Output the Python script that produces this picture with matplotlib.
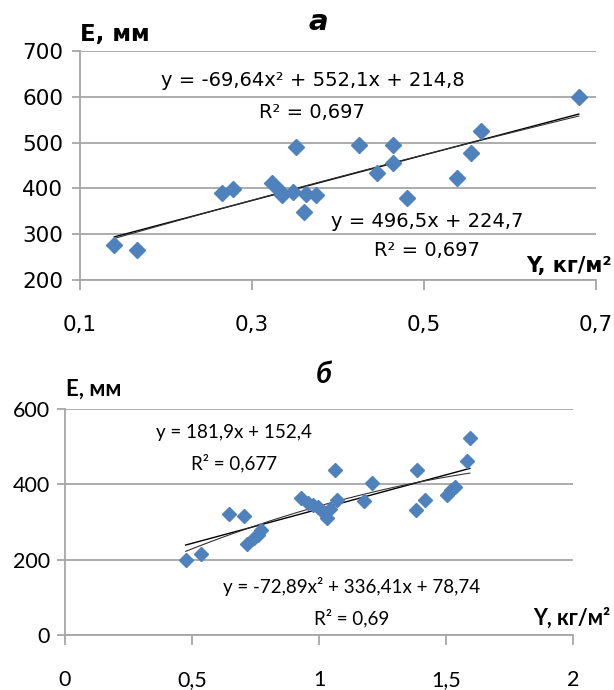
import numpy as np
import matplotlib
matplotlib.use("Agg")
import matplotlib.pyplot as plt

plt.rcParams['font.family'] = ['Lato', 'DejaVu Sans']

# panel a
y_a = [0.14, 0.166, 0.265, 0.278, 0.323, 0.332, 0.335, 0.348, 0.351, 0.361, 0.363,
       0.374, 0.424, 0.445, 0.464, 0.464, 0.48, 0.538, 0.555, 0.566, 0.68]
e_a = [276, 265, 390, 398, 411, 395, 385, 393, 491, 349, 388,
       385, 495, 433, 455, 495, 380, 422, 478, 526, 600]
lin_a = [496.5, 224.7]
quad_a = [-69.64, 552.1, 214.8]
ticks_xa = [0.1, 0.3, 0.5, 0.7]
labels_xa = ['0,1', '0,3', '0,5', '0,7']
ticks_ya = [200, 300, 400, 500, 600, 700]

# panel b
y_b = [0.475, 0.535, 0.647, 0.706, 0.715, 0.745, 0.758, 0.77, 0.93, 0.955, 0.975,
       0.997, 1.01, 1.03, 1.045, 1.063, 1.07, 1.178, 1.207, 1.382, 1.387, 1.417,
       1.505, 1.52, 1.535, 1.581, 1.594]
e_b = [198, 215, 321, 317, 241, 257, 265, 279, 364, 350, 345,
       341, 330, 310, 335, 439, 359, 355, 403, 332, 439, 359,
       372, 385, 394, 461, 523]
lin_b = [181.9, 152.4]
quad_b = [-72.89, 336.41, 78.74]
ticks_xb = [0, 0.5, 1, 1.5, 2]
labels_xb = ['0', '0,5', '1', '1,5', '2']
ticks_yb = [0, 200, 400, 600]

BLUE = '#4F81BD'
GRID = '#A6A6A6'
WIDE = ['DejaVu Sans']   # top panel looks horizontally stretched

fig = plt.figure(figsize=(6.14, 6.9), dpi=100)
ax1 = fig.add_axes([80 / 614, 1 - 280 / 690, (596 - 80) / 614, (280 - 51) / 690])
ax2 = fig.add_axes([65 / 614, 1 - 635 / 690, (573 - 65) / 614, (635 - 409) / 690])


def style(ax, xt, xl, yt, pad_x, pad_y, fam, fs):
    ax.set_yticks(yt)
    ax.set_yticklabels([str(v) for v in yt], family=fam, fontsize=fs)
    ax.set_xticks(xt)
    ax.set_xticklabels(xl, family=fam, fontsize=fs)
    ax.set_ylim(yt[0], yt[-1])
    ax.set_xlim(xt[0], xt[-1])
    ax.grid(axis='y', color=GRID, lw=1.3)
    ax.set_axisbelow(True)
    for s in ['top', 'right']:
        ax.spines[s].set_visible(False)
    for s in ['left', 'bottom']:
        ax.spines[s].set_color(GRID)
        ax.spines[s].set_linewidth(1.3)
    ax.tick_params(axis='y', length=6, color=GRID, width=1.3, pad=pad_y)
    ax.tick_params(axis='x', length=7, color=GRID, width=1.3, pad=pad_x)


style(ax1, ticks_xa, labels_xa, ticks_ya, 18, 6, WIDE, 15.5)
style(ax2, ticks_xb, labels_xb, ticks_yb, 18, 5, ['Lato', 'DejaVu Sans'], 15.5)

for ax, xs, es, lin, quad, ms in [(ax1, y_a, e_a, lin_a, quad_a, 8), (ax2, y_b, e_b, lin_b, quad_b, 7.5)]:
    xx = np.linspace(min(xs), max(xs), 50)
    ax.plot(xx, np.polyval(lin, xx), color='black', lw=1.0, zorder=2)
    ax.plot(xx, np.polyval(quad, xx), color='#333333', lw=0.8, zorder=2)
    ax.plot(xs, es, 'D', color=BLUE, ms=ms, mec=BLUE, zorder=3)

# texts panel a
fig.text(318 / 614, 1 - 22 / 690, 'а', fontsize=21, fontweight='bold', style='italic',
         ha='center', va='center', family=WIDE)
fig.text(115 / 614, 1 - 34 / 690, 'E, мм', fontsize=16.5, fontweight='bold', ha='center', va='center', family=WIDE)
fig.text(313 / 614, 1 - 80 / 690, 'y = -69,64x² + 552,1x + 214,8', fontsize=14, ha='center', va='center', family=WIDE)
fig.text(312 / 614, 1 - 112 / 690, 'R² = 0,697', fontsize=14, ha='center', va='center', family=WIDE)
fig.text(427 / 614, 1 - 222 / 690, 'y = 496,5x + 224,7', fontsize=14, ha='center', va='center', family=WIDE)
fig.text(427 / 614, 1 - 250 / 690, 'R² = 0,697', fontsize=14, ha='center', va='center', family=WIDE)
fig.text(612 / 614, 1 - 266 / 690, 'Y, кг/м²', fontsize=15, fontweight='bold', ha='right', va='center', family=WIDE)

# texts panel b
fig.text(324 / 614, 1 - 375 / 690, 'б', fontsize=21, fontweight='bold', style='italic',
         ha='center', va='center')
fig.text(94 / 614, 1 - 389 / 690, 'E, мм', fontsize=16, fontweight='bold', ha='center', va='center')
fig.text(234 / 614, 1 - 432 / 690, 'y = 181,9x + 152,4', fontsize=13.5, ha='center', va='center')
fig.text(234 / 614, 1 - 463 / 690, 'R² = 0,677', fontsize=13.5, ha='center', va='center')
fig.text(352 / 614, 1 - 587 / 690, 'y = -72,89x² + 336,41x + 78,74', fontsize=13.5, ha='center', va='center')
fig.text(352 / 614, 1 - 618 / 690, 'R² = 0,69', fontsize=13.5, ha='center', va='center')
fig.text(610 / 614, 1 - 618 / 690, 'Y, кг/м²', fontsize=15.5, fontweight='bold', ha='right', va='center')

fig.savefig('out.png', dpi=100)
